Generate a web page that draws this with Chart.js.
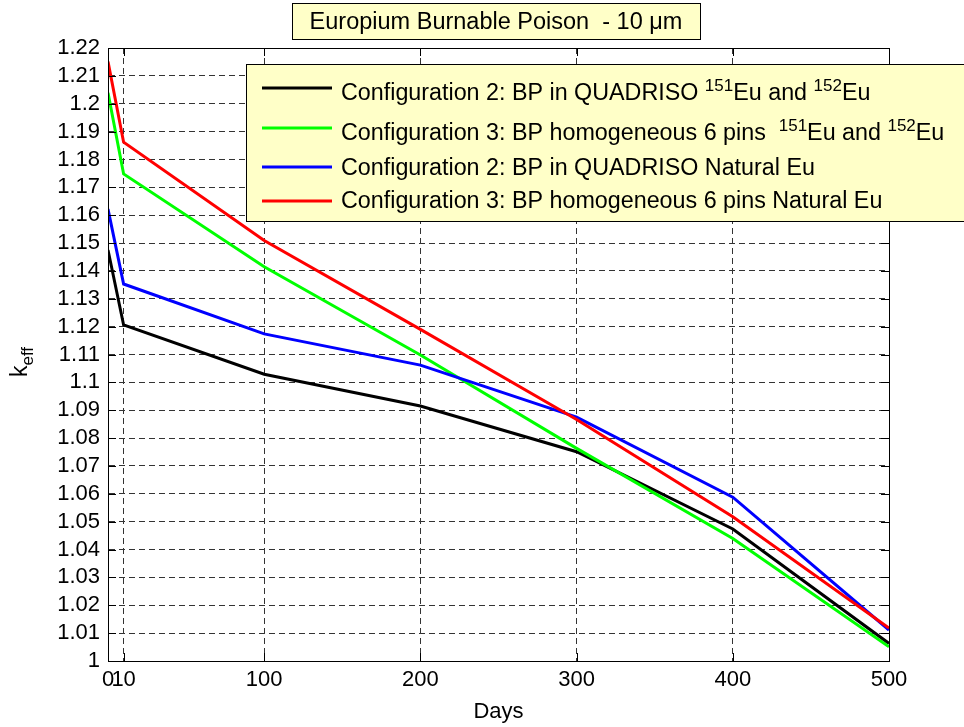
<!DOCTYPE html>
<html>
<head>
<meta charset="utf-8">
<script src="https://cdn.jsdelivr.net/npm/chart.js@4"></script>
<style>
  body { margin: 0; background: #fff; }
  canvas { display: block; }
</style>
</head>
<body>
<canvas id="grafico" width="964" height="727"></canvas>
<script>
const days = [0, 10, 100, 200, 300, 400, 500];
const conf2Isotopes = [1.1475, 1.1206, 1.1029, 1.0915, 1.0751, 1.0474, 1.0063];
const conf3Isotopes = [1.2039, 1.1748, 1.1415, 1.1098, 1.0763, 1.0440, 1.0051];
const conf2Natural = [1.1622, 1.1353, 1.1174, 1.1062, 1.0875, 1.0588, 1.0111];
const conf3Natural = [1.2151, 1.1862, 1.1509, 1.1190, 1.0867, 1.0518, 1.0118];

// ^ marks superscript text in the legend labels
const seriesLabels = [
    'Configuration 2: BP in QUADRISO ^151|Eu and ^152|Eu',
    'Configuration 3: BP homogeneous 6 pins  ^151|Eu and ^152|Eu',
    'Configuration 2: BP in QUADRISO Natural Eu',
    'Configuration 3: BP homogeneous 6 pins Natural Eu'
];
const xTicks = [0, 10, 100, 200, 300, 400, 500];
const chartTitle = 'Europium Burnable Poison  - 10 \u03bcm';
const xTitle = 'Days';

const FONT = '"Liberation Sans", Arial, sans-serif';

function toPoints(values) {
    return values.map((v, i) => ({ x: days[i], y: v }));
}

function drawRich(ctx, text, x, y, size) {
    // draw "a ^sup| b" style text, returns end x
    const parts = text.split('^');
    ctx.textBaseline = 'alphabetic';
    ctx.textAlign = 'left';
    parts.forEach((part, i) => {
        let normal = part;
        if (i > 0) {
            const bar = part.indexOf('|');
            const sup = part.slice(0, bar);
            normal = part.slice(bar + 1);
            ctx.font = Math.round(size * 0.73) + 'px ' + FONT;
            ctx.fillText(sup, x, y - size * 0.4);
            x += ctx.measureText(sup).width;
        }
        ctx.font = size + 'px ' + FONT;
        ctx.fillText(normal, x, y);
        x += ctx.measureText(normal).width;
    });
    return x;
}

const decorations = {
    id: 'decorations',
    afterDraw(chart) {
        const ctx = chart.ctx;
        const a = chart.chartArea;
        const xs = chart.scales.x;
        const ys = chart.scales.y;
        ctx.save();

        // box round the plot with inner ticks
        ctx.strokeStyle = '#000';
        ctx.lineWidth = 1;
        ctx.setLineDash([]);
        ctx.strokeRect(a.left + 0.5, a.top + 0.5, a.right - a.left, a.bottom - a.top);
        ctx.beginPath();
        xs.ticks.forEach(t => {
            const px = Math.round(xs.getPixelForValue(t.value)) + 0.5;
            ctx.moveTo(px, a.bottom); ctx.lineTo(px, a.bottom - 8);
            ctx.moveTo(px, a.top); ctx.lineTo(px, a.top + 8);
        });
        ys.ticks.forEach(t => {
            const py = Math.round(ys.getPixelForValue(t.value)) + 0.5;
            ctx.moveTo(a.left, py); ctx.lineTo(a.left + 8, py);
            ctx.moveTo(a.right, py); ctx.lineTo(a.right - 8, py);
        });
        ctx.stroke();

        // title box
        ctx.fillStyle = '#ffffc8';
        ctx.fillRect(292, 3, 409, 37);
        ctx.strokeRect(292.5, 3.5, 408, 36);
        ctx.fillStyle = '#000';
        ctx.font = '23.5px ' + FONT;
        ctx.textAlign = 'center';
        ctx.textBaseline = 'alphabetic';
        ctx.fillText(chartTitle, 496, 29);

        // legend box, runs past the right edge like the original
        ctx.fillStyle = '#ffffc8';
        ctx.fillRect(246, 64, 730, 158);
        ctx.strokeRect(246.5, 64.5, 730, 157);
        const rowsY = [88, 128, 167, 201];
        const baseY = [100, 140, 175, 208];
        chart.data.datasets.forEach((ds, i) => {
            ctx.strokeStyle = ds.borderColor;
            ctx.lineWidth = 3;
            ctx.beginPath();
            ctx.moveTo(262, rowsY[i]);
            ctx.lineTo(332, rowsY[i]);
            ctx.stroke();
            ctx.fillStyle = '#000';
            drawRich(ctx, ds.label, 341, baseY[i], 23.3);
        });

        // y axis title k_eff
        ctx.translate(27, 362);
        ctx.rotate(-Math.PI / 2);
        ctx.fillStyle = '#000';
        ctx.font = '23px ' + FONT;
        ctx.textAlign = 'left';
        const kw = ctx.measureText('k').width;
        ctx.font = '17px ' + FONT;
        const ew = ctx.measureText('eff').width;
        const start = -(kw + ew) / 2;
        ctx.font = '23px ' + FONT;
        ctx.fillText('k', start, 0);
        ctx.font = '17px ' + FONT;
        ctx.fillText('eff', start + kw, 6);
        ctx.restore();
    }
};

const colors = ['#000000', '#00ff00', '#0000ff', '#ff0000'];
const seriesData = [conf2Isotopes, conf3Isotopes, conf2Natural, conf3Natural];

const ctx = document.getElementById('grafico').getContext('2d');
const grafico = new Chart(ctx, {
    type: 'line',
    data: {
        datasets: seriesData.map((vals, i) => ({
            label: seriesLabels[i],
            data: toPoints(vals),
            borderColor: colors[i],
            backgroundColor: colors[i],
            borderWidth: 3,
            pointRadius: 0,
            tension: 0,
            fill: false,
            order: 4 - i
        }))
    },
    options: {
        responsive: false,
        animation: false,
        devicePixelRatio: 1,
        layout: { padding: { top: 48, right: 75, bottom: 0, left: 0 } },
        plugins: {
            legend: { display: false },
            tooltip: { enabled: false }
        },
        scales: {
            x: {
                type: 'linear',
                min: 0,
                max: 500,
                afterBuildTicks: scale => {
                    scale.ticks = xTicks.map(v => ({ value: v }));
                },
                afterFit: scale => { scale.height = 66; },
                ticks: {
                    autoSkip: false,
                    maxRotation: 0,
                    color: '#000',
                    padding: 6,
                    font: { family: FONT, size: 22 }
                },
                grid: { color: '#333', lineWidth: 1, drawTicks: false },
                border: { color: '#000', dash: [6, 4] },
                title: {
                    display: true,
                    text: xTitle,
                    color: '#000',
                    font: { family: FONT, size: 22 },
                    padding: { top: 0, bottom: 2 }
                }
            },
            y: {
                min: 1,
                max: 1.22,
                afterFit: scale => { scale.width = 108; },
                ticks: {
                    stepSize: 0.01,
                    autoSkip: false,
                    color: '#000',
                    padding: 8,
                    font: { family: FONT, size: 22 },
                    callback: v => String(+v.toFixed(2))
                },
                grid: { color: '#333', lineWidth: 1, drawTicks: false },
                border: { color: '#000', dash: [6, 4] }
            }
        }
    },
    plugins: [decorations]
});
</script>
</body>
</html>
